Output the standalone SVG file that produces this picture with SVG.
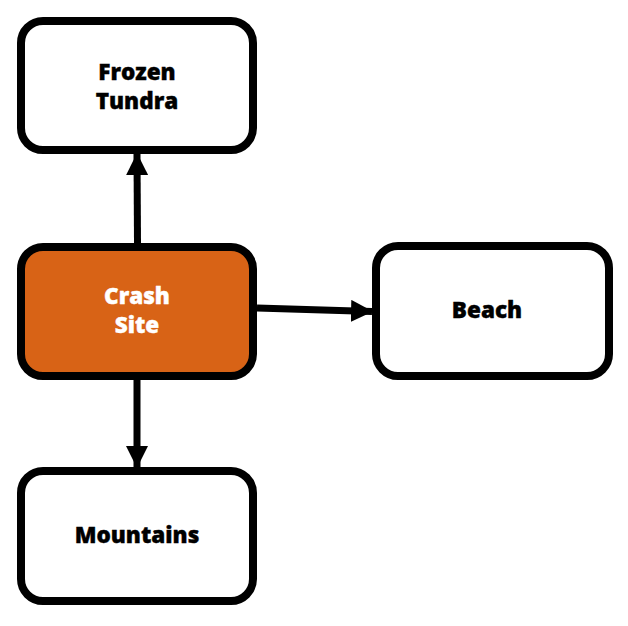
<svg xmlns="http://www.w3.org/2000/svg" width="628" height="626" viewBox="0 0 628 626">
<style>
.box{fill:#fff;stroke:#000;stroke-width:8}
.hot{fill:#D86316}
.lbl{font-family:"Open Sans","DejaVu Sans",sans-serif;font-weight:800;font-size:22.5px;text-anchor:middle;fill:#000;stroke:#000;stroke-width:0.4}
.wl{fill:#fff;stroke:#fff}
.edge{stroke:#000;stroke-width:7;fill:none}
</style>
<defs>
<marker id="ah" viewBox="0 0 22 22" refX="21" refY="11" markerWidth="22" markerHeight="22" markerUnits="userSpaceOnUse" orient="auto">
<path d="M0,0 L22,11 L0,22 Z" fill="#000"/>
</marker>
</defs>
<g id="connectors">
<path class="edge" d="M137.5,243 L137,154" marker-end="url(#ah)"/>
<path class="edge" d="M257,308 L372,311.5" marker-end="url(#ah)"/>
<path class="edge" d="M137,380 L137,467" marker-end="url(#ah)"/>
</g>
<g id="frozen-tundra">
<rect class="box" x="21" y="21" width="232" height="129" rx="22"/>
<text class="lbl" x="137" y="80">Frozen</text>
<text class="lbl" x="137" y="109">Tundra</text>
</g>
<g id="crash-site">
<rect class="box hot" x="21" y="247" width="232" height="129" rx="22"/>
<text class="lbl wl" x="137" y="304">Crash</text>
<text class="lbl wl" x="137" y="333">Site</text>
</g>
<g id="beach">
<rect class="box" x="376" y="246" width="233" height="130" rx="22"/>
<text class="lbl" x="487" y="318">Beach</text>
</g>
<g id="mountains">
<rect class="box" x="21" y="471" width="232" height="130" rx="22"/>
<text class="lbl" x="137" y="543">Mountains</text>
</g>
</svg>
